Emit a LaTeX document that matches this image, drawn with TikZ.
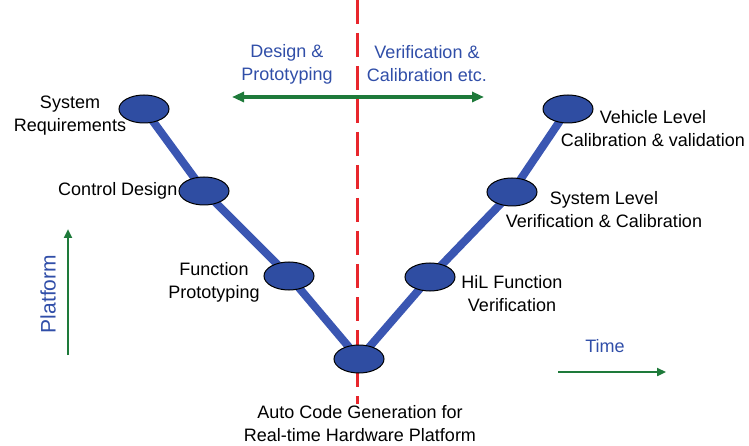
\documentclass[tikz,border=0pt]{standalone}
\usepackage{fontspec}
\setmainfont{Liberation Sans}
\usetikzlibrary{shapes.geometric,arrows.meta,positioning,backgrounds}

\definecolor{vblue}{RGB}{47,77,162}
\definecolor{vline}{RGB}{58,86,178}
\definecolor{tblue}{RGB}{48,78,168}
\definecolor{agreen}{RGB}{30,122,58}
\definecolor{vred}{RGB}{232,38,44}

\tikzstyle{phase} = [draw=black, fill=vblue, ellipse, line width=1pt, minimum width=50pt, minimum height=28pt, inner sep=0pt]
\tikzstyle{phaselabel} = [align=center, font=\fontsize{18}{23}\selectfont, inner sep=0pt]
\tikzstyle{sidelabel} = [phaselabel, text=tblue]
\tikzstyle{vstroke} = [draw=vline, line width=8pt]
\tikzstyle{greenarrow} = [draw=agreen, line width=2.5pt, -{Triangle[length=9pt,width=8pt]}]

\begin{document}
\begin{tikzpicture}[x=1pt, y=-1pt]
\useasboundingbox (0,0) rectangle (749,446);

% phases of the V
\node[phase] (sysreq) at (144,109) {};
\node[phase] (ctrldesign) at (204,191) {};
\node[phase] (funcproto) at (289,276) {};
\node[phase] (autocode) at (359,359) {};
\node[phase] (hil) at (430,277) {};
\node[phase] (syslevel) at (512,192) {};
\node[phase] (vehlevel) at (568,109) {};

% divider and V go behind the phases
\coordinate (divtop) at (357,0);
\coordinate (divbottom) at (357,404);
\begin{pgfonlayer}{background}
\draw[vred, line width=3pt, dash pattern=on 24pt off 9pt] (divtop) -- (divbottom);
\draw[vstroke] (sysreq.center) -- (ctrldesign.center) -- (funcproto.center) -- (autocode.center)
  -- (hil.center) -- (syslevel.center) -- (vehlevel.center);
\end{pgfonlayer}

\node[phaselabel] (sysreqtext) at (70,116) {System\\Requirements};
\node[phaselabel, left=1pt of ctrldesign] (ctrldesigntext) {Control Design};
\node[phaselabel] (funcprototext) at (214,282) {Function\\Prototyping};
\node[phaselabel] (autocodetext) at (360,424) {Auto Code Generation for\\Real-time Hardware Platform};
\node[phaselabel] (hiltext) at (512,294) {HiL Function\\Verification};
\node[phaselabel] (sysleveltext) at (604,210) {System Level\\Verification \& Calibration};
\node[phaselabel] (vehleveltext) at (653,129) {Vehicle Level\\Calibration \& validation};

% phase direction
\node[sidelabel] (design) at (287,64) {Design \&\\Prototyping};
\node[sidelabel] (verif) at (427,64) {Verification \&\\Calibration etc.};
\coordinate (phaseleft) at (232,97);
\coordinate (phaseright) at (484,97);
\draw[greenarrow, line width=3.5pt, {Triangle[length=12pt,width=10pt]}-{Triangle[length=12pt,width=10pt]}] (phaseleft) -- (phaseright);

% axes
\node[sidelabel, rotate=90, font=\fontsize{21}{25}\selectfont] (platform) at (48,294) {Platform};
\coordinate (platlow) at (68,355);
\coordinate (plathigh) at (68,229);
\draw[greenarrow] (platlow) -- (plathigh);

\node[sidelabel] (time) at (605,346) {Time};
\coordinate (timeleft) at (558,372);
\coordinate (timeright) at (666,372);
\draw[greenarrow] (timeleft) -- (timeright);
\end{tikzpicture}
\end{document}
